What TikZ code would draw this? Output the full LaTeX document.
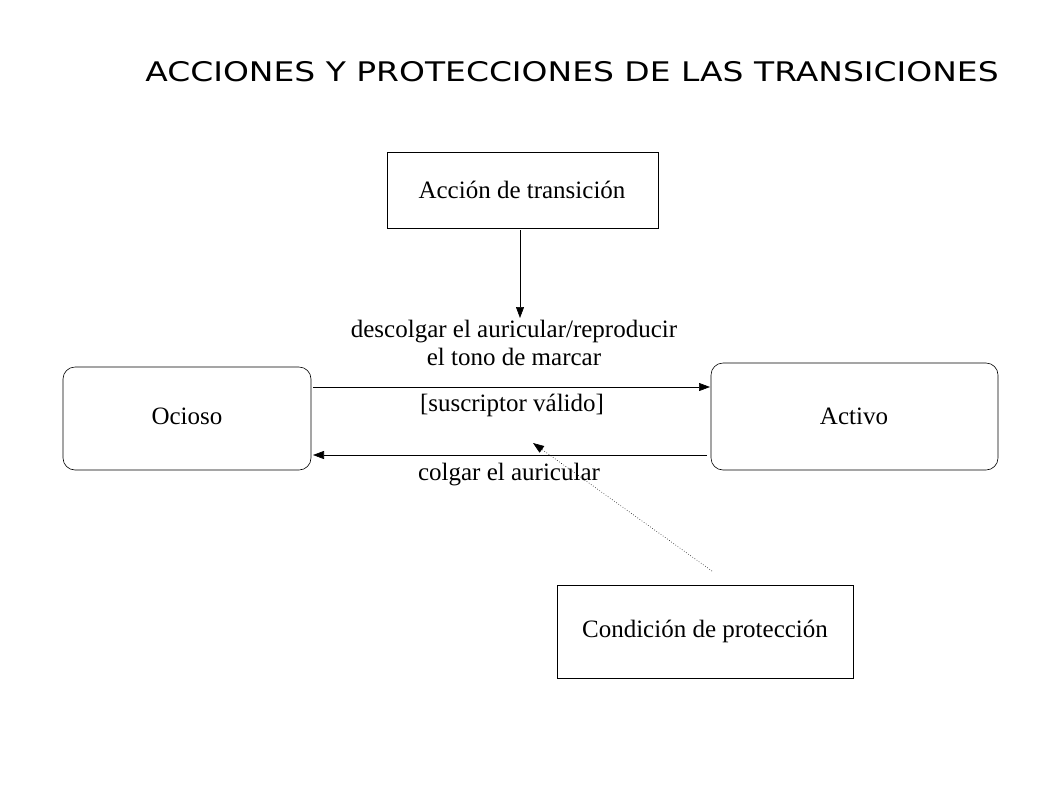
\documentclass[tikz,border=0pt]{standalone}
\usepackage{fontspec}
\setmainfont{Liberation Serif}
\newfontfamily\titlefont{DejaVu Sans}
\usetikzlibrary{arrows.meta}
\begin{document}
\begin{tikzpicture}[x=1pt,y=-1pt,
  lbl/.style={font=\fontsize{25}{27}\selectfont,inner sep=0pt},
  box/.style={draw,line width=0.6pt},
  arr/.style={-{Triangle[length=11pt,width=8pt]},line width=0.6pt}]
\useasboundingbox (0,0) rectangle (1058,793);
\node[inner sep=0pt,font=\titlefont\fontsize{27}{29}\selectfont,xscale=1.22] (title) at (572,72) {ACCIONES Y PROTECCIONES DE LAS TRANSICIONES};
\draw[box] (387,152) rectangle (658,228);
\node[lbl] (acc) at (522,190) {Acción de transición};
\draw[box,rounded corners=12pt] (63,367) rectangle (311,470);
\node[lbl] (oc) at (187,416) {Ocioso};
\draw[box,rounded corners=12pt] (711,363) rectangle (998,470);
\node[lbl] (ac) at (854,416) {Activo};
\draw[box] (557,585) rectangle (853,678);
\node[lbl] (cond) at (705,631) {Condición de protección};
\coordinate (a1) at (520,230); \coordinate (a2) at (520,318);
\draw[arr] (a1) -- (a2);
\coordinate (r1) at (313,387); \coordinate (r2) at (710,387);
\draw[arr] (r1) -- (r2);
\coordinate (l1) at (707,455); \coordinate (l2) at (313,455);
\draw[arr] (l1) -- (l2);
\coordinate (d1) at (712,571); \coordinate (d2) at (533,443);
\draw[arr,dotted] (d1) -- (d2);
\node[lbl] (t1) at (514,332) {descolgar el auricular/reproducir};
\node[lbl] (t2) at (514,357) {el tono de marcar};
\node[lbl] (t3) at (512,405) {[suscriptor válido]};
\node[lbl] (t4) at (509,475) {colgar el auricular};
\end{tikzpicture}
\end{document}
